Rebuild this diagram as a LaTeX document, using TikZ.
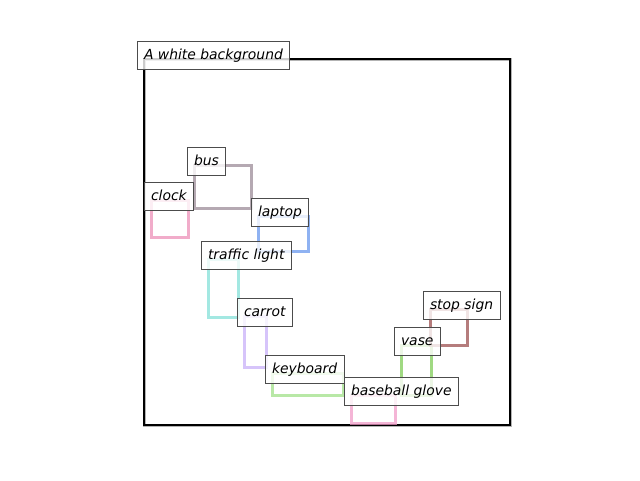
\documentclass[tikz,border=0pt]{standalone}
\usepackage{fontspec}
\setmainfont{DejaVu Sans}
\definecolor{bgcol}{HTML}{999999}
\definecolor{buscol}{HTML}{9C8C98}
\definecolor{clockcol}{HTML}{EC90B8}
\definecolor{laptopcol}{HTML}{6A98EE}
\definecolor{lightcol}{HTML}{84E0D8}
\definecolor{carrotcol}{HTML}{C8B0F8}
\definecolor{keyboardcol}{HTML}{A0E088}
\definecolor{glovecol}{HTML}{F09CC8}
\definecolor{vasecol}{HTML}{80CC58}
\definecolor{stopcol}{HTML}{9C5050}
\tikzset{
    objbox/.style={line width=3pt, opacity=0.75},
    tag/.style={draw=black!70, fill=white, fill opacity=0.8, text opacity=1,
        line width=1pt, anchor=base west, xshift=-7pt, outer sep=0pt,
        inner xsep=7pt, inner ysep=5pt, text height=13pt, text depth=5pt,
        font=\fontsize{13.9}{16}\selectfont\itshape},
}
\begin{document}
\begin{tikzpicture}[x=1pt,y=-1pt]
\useasboundingbox (0,0) rectangle (640,480);
        % boxes
            \draw[objbox, bgcol] (144,59) rectangle (510,425);
            \draw[line width=2pt] (144,59) rectangle (510,425);
            \foreach \c/\xa/\ya/\xb/\yb in {buscol/194/165/251/208,clockcol/151/200/188/237,
                laptopcol/258/216/308/251,lightcol/208/259/238/317,carrotcol/244/316/266/367,
                keyboardcol/272/373/343/395,glovecol/351/395/395/423,vasecol/401/345/431/395,
                stopcol/430/309/467/345}{
                \draw[objbox, \c] (\xa,\ya) rectangle (\xb,\yb);
            }
        % labels
            \foreach \n/\x/\y/\t in {bg/144/59/A white background,bus/194/165/bus,clock/151/200/clock,
                laptop/258/216/laptop,light/208/259/traffic light,carrot/244/316/carrot,
                keyboard/272/373/keyboard,glove/351/395/baseball glove,vase/401/345/vase,
                stop/430/309/stop sign}{
                \node[tag] (\n) at (\x,\y) {\t};
            }
\end{tikzpicture}
\end{document}
